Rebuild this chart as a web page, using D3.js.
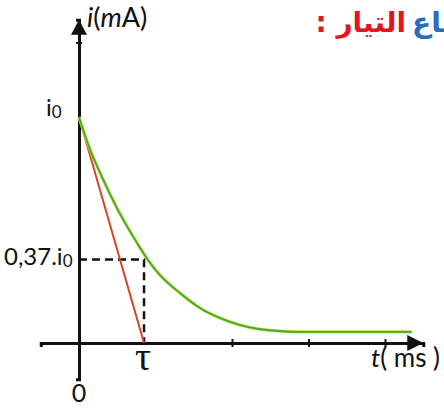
<!DOCTYPE html>
<html>
<head>
<meta charset="utf-8">
<script src="https://cdn.jsdelivr.net/npm/d3@7"></script>
<style>
  body { margin: 0; background: #fff; }
  svg { display: block; }
</style>
</head>
<body>
<svg width="444" height="408"></svg>
<script>
// ---- data (t in tick units, i relative to i0) ----
const tValues = [0, 0.14, 0.3, 0.51, 0.76, 0.93, 1.06, 1.32, 1.58, 1.84, 2.1, 2.35, 2.61, 2.89, 4.35];
const iValues = [1, 0.86, 0.735, 0.588, 0.442, 0.354, 0.30, 0.221, 0.155, 0.111, 0.08, 0.062, 0.053, 0.049, 0.049];
const tau = 0.85;
const ratio = 0.37;
const xTicks = [2, 3, 4];
const yTicks = [1.33];
const xDomain = [-0.5, 4.5];
const yDomain = [-0.16, 1.43];

const svg = d3.select("svg");

const x = d3.scaleLinear().domain(xDomain).range([40.75, 423.25]);
const y = d3.scaleLinear().domain([0, 1]).range([343, 117]);
const yAx = y.copy().domain(yDomain).range(yDomain.map(y));

const font = "Lato, 'Open Sans', sans-serif";

// -------- axes --------
const gx = svg.append("g").attr("transform", `translate(0,${y(0)})`)
  .call(d3.axisBottom(x).tickValues(xTicks).tickFormat("").tickSizeOuter(0).tickSize(4));
gx.select(".domain").attr("stroke", "#111").attr("stroke-width", 3);
gx.selectAll(".tick line").attr("y1", -4).attr("stroke", "#111").attr("stroke-width", 2);

const gy = svg.append("g").attr("transform", `translate(${x(0)},0)`)
  .call(d3.axisLeft(yAx).tickValues(yTicks).tickFormat("").tickSizeOuter(0).tickSize(3));
gy.select(".domain").attr("stroke", "#111").attr("stroke-width", 3);
gy.selectAll(".tick line").attr("x1", 3).attr("stroke", "#111").attr("stroke-width", 2);

// arrow heads
const xe = x(xDomain[1]), ye = yAx(yDomain[1]);
svg.append("path")
  .attr("d", `M${xe - 16},${y(0) - 8}L${xe},${y(0)}L${xe - 16},${y(0) + 8}Z`)
  .attr("fill", "#111");
svg.append("path")
  .attr("d", `M${x(0) - 8},${ye + 15}L${x(0)},${ye}L${x(0) + 8},${ye + 15}Z`)
  .attr("fill", "#111");

// -------- dashed guides --------
svg.append("path")
  .attr("d", `M${x(0)},${y(ratio)}H${x(tau)}V${y(0)}`)
  .attr("fill", "none").attr("stroke", "#111").attr("stroke-width", 2.5)
  .attr("stroke-dasharray", "8,5");

// -------- tangent (red) --------
svg.append("path")
  .attr("d", d3.line().x(d => x(d[0])).y(d => y(d[1]))([[0, 1], [tau, 0]]))
  .attr("fill", "none").attr("stroke", "#d2452a").attr("stroke-width", 2);

// -------- current decay (green) --------
const pts = tValues.map((t, k) => [t, iValues[k]]);
const curve = d3.line().x(d => x(d[0])).y(d => y(d[1])).curve(d3.curveMonotoneX);
svg.append("path").attr("d", curve(pts))
  .attr("fill", "none").attr("stroke", "#c4da3a").attr("stroke-width", 3.2);
svg.append("path").attr("d", curve(pts))
  .attr("fill", "none").attr("stroke", "#45ab35").attr("stroke-width", 1.8);

// -------- labels --------
const yl = svg.append("text").attr("x", 87).attr("y", 27)
  .attr("font-family", font).attr("font-size", 27).attr("fill", "#111");
yl.append("tspan").attr("font-style", "italic").text("i");
yl.append("tspan").text("(");
yl.append("tspan").attr("font-style", "italic").text("m");
yl.append("tspan").text("A)");

const xl = svg.append("text").attr("x", 371).attr("y", 367)
  .attr("font-family", font).attr("font-size", 26).attr("fill", "#111");
xl.append("tspan").attr("font-style", "italic").text("t");
xl.append("tspan").text("( ms )");

const i0 = svg.append("text").attr("x", 46).attr("y", 116)
  .attr("font-family", font).attr("font-size", 24).attr("fill", "#111");
i0.append("tspan").text("i");
i0.append("tspan").attr("font-size", 17).attr("dy", 2).text("0");

const r0 = svg.append("text").attr("x", 4).attr("y", 265)
  .attr("font-family", font).attr("font-size", 24).attr("fill", "#111");
r0.append("tspan").text("0,37.i");
r0.append("tspan").attr("font-size", 17).attr("dy", 2).text("0");

svg.append("text").attr("x", x(tau) - 1).attr("y", 370).attr("text-anchor", "middle")
  .attr("font-family", "'Liberation Serif', serif").attr("font-size", 40).attr("fill", "#111")
  .text("τ");

svg.append("text").attr("x", x(0)).attr("y", 402).attr("text-anchor", "middle")
  .attr("font-family", font).attr("font-size", 25).attr("fill", "#111").text("0");

// -------- Arabic heading (cut off on the right, as in the source) --------
svg.append("text").attr("x", 406).attr("y", 32).attr("text-anchor", "end")
  .attr("font-family", "'DejaVu Sans', sans-serif").attr("font-weight", "bold")
  .attr("font-size", 28).attr("fill", "#e3161f").text(": التيار");
svg.append("text").attr("x", 412).attr("y", 32).attr("text-anchor", "start")
  .attr("font-family", "'DejaVu Sans', sans-serif").attr("font-weight", "bold")
  .attr("font-size", 28).attr("fill", "#2a6ebb").text("انقطاع");
</script>
</body>
</html>
